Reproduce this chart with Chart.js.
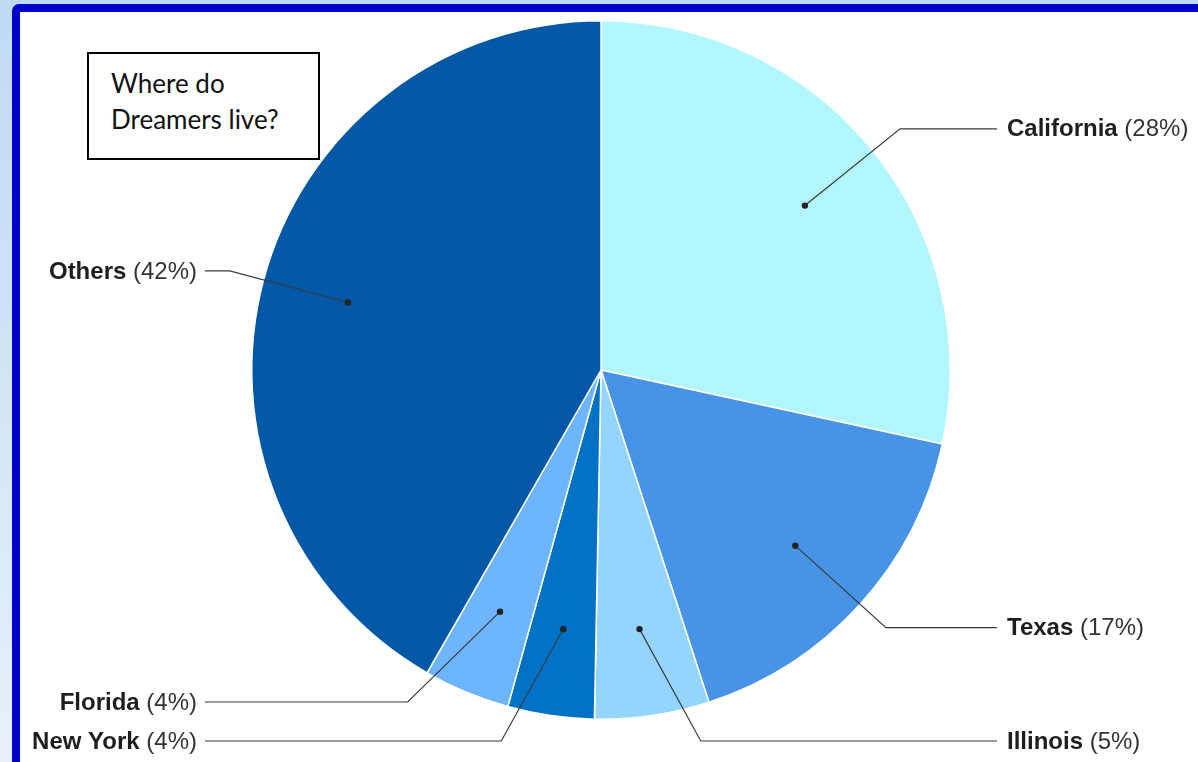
<!DOCTYPE html>
<html>
<head>
<meta charset="utf-8">
<script src="https://cdn.jsdelivr.net/npm/chart.js@4.4.1/dist/chart.umd.min.js"></script>
<style>
  html, body { margin: 0; padding: 0; }
  body {
    width: 1198px; height: 762px; overflow: hidden; position: relative;
    background: linear-gradient(to bottom, #c0daf4 0%, #d0e3f5 45%, #e8f1fb 100%);
  }
  #moldura {
    position: absolute; left: 12px; top: 4px; width: 1240px; height: 820px;
    border: 8px solid #0000cc; border-radius: 7px; background: #fff;
  }
  #grafico { position: absolute; left: 0; top: 0; }
  #titulo {
    position: absolute; left: 87px; top: 52px; width: 229px; height: 104px;
    border: 2px solid #000; background: #fff; box-sizing: content-box;
    font-family: Lato, "Open Sans", sans-serif; font-size: 26px; line-height: 36px;
    color: #111; padding: 0; 
  }
  #titulo span { display: block; margin: 11px 0 0 22px; }
</style>
</head>
<body>
<div id="moldura"></div>
<canvas id="grafico" width="1198" height="762"></canvas>
<div id="titulo"><span>Where do<br>Dreamers live?</span></div>
<script>
// Onde vivem os Dreamers — participação por estado
const estados = ['California', 'Texas', 'Illinois', 'New York', 'Florida', 'Others'];
const percentuais = [28.4, 16.6, 5.3, 4.0, 4.0, 41.7];
const cores = ['#b2f7ff', '#4794e7', '#93d5fe', '#0072c6', '#6db5fe', '#0058a6'];

// rótulos com linha de chamada, no estilo do Google Charts
const rotulosChamada = {
  id: 'rotulosChamada',
  afterDraw(chart) {
    const ctx = chart.ctx;
    const arcos = chart.getDatasetMeta(0).data;
    const area = chart.chartArea;
    const total = percentuais.reduce((a, b) => a + b, 0);
    const limiteY = area.bottom + 21;
    const espaco = 39;

    const itens = arcos.map((arco, i) => {
      const meio = (arco.startAngle + arco.endAngle) / 2;
      const R = arco.outerRadius;
      const r2 = R * 1.1;
      return {
        i, cx: arco.x, cy: arco.y, R, r2,
        px: arco.x + Math.cos(meio) * R * 0.75,
        py: arco.y + Math.sin(meio) * R * 0.75,
        lado: Math.cos(meio) >= 0 ? 1 : -1,
        y: Math.min(arco.y + Math.sin(meio) * r2, limiteY)
      };
    });

    [1, -1].forEach(lado => {
      const grupo = itens.filter(it => it.lado === lado).sort((a, b) => a.y - b.y);
      for (let k = grupo.length - 2; k >= 0; k--) {
        grupo[k].y = Math.min(grupo[k].y, grupo[k + 1].y - espaco);
      }
    });

    ctx.save();
    itens.forEach(it => {
      const dy = it.y - it.cy;
      const dx = Math.sqrt(Math.max(it.r2 * it.r2 - dy * dy, 0));
      const ex = it.cx + it.lado * dx;
      const fimX = it.lado > 0 ? area.right + 46 : area.left - 46;

      ctx.strokeStyle = '#3a3a3a';
      ctx.lineWidth = 1.2;
      ctx.beginPath();
      ctx.moveTo(it.px, it.py);
      ctx.lineTo(ex, it.y);
      ctx.lineTo(fimX, it.y);
      ctx.stroke();

      ctx.fillStyle = '#222';
      ctx.beginPath();
      ctx.arc(it.px, it.py, 3.2, 0, Math.PI * 2);
      ctx.fill();

      const nome = estados[it.i];
      const pct = ' (' + Math.round(percentuais[it.i] / total * 100) + '%)';
      ctx.textBaseline = 'middle';
      ctx.font = 'bold 24px "Liberation Sans", Arial, sans-serif';
      const wNome = ctx.measureText(nome).width;
      ctx.font = '24px "Liberation Sans", Arial, sans-serif';
      const wPct = ctx.measureText(pct).width;
      let x = it.lado > 0 ? fimX + 10 : fimX - 8 - wNome - wPct;
      ctx.textAlign = 'left';
      ctx.font = 'bold 24px "Liberation Sans", Arial, sans-serif';
      ctx.fillStyle = '#1e1e1e';
      ctx.fillText(nome, x, it.y + 1);
      ctx.font = '24px "Liberation Sans", Arial, sans-serif';
      ctx.fillStyle = '#333';
      ctx.fillText(pct, x + wNome, it.y + 1);
    });
    ctx.restore();
  }
};

new Chart(document.getElementById('grafico').getContext('2d'), {
  type: 'pie',
  data: {
    labels: estados,
    datasets: [{
      data: percentuais,
      backgroundColor: cores,
      borderColor: '#ffffff',
      borderWidth: 1.5
    }]
  },
  options: {
    responsive: false,
    animation: false,
    layout: { padding: { top: 20, bottom: 42, left: 251, right: 247 } },
    plugins: {
      legend: { display: false },
      tooltip: { enabled: false }
    }
  },
  plugins: [rotulosChamada]
});
</script>
</body>
</html>
